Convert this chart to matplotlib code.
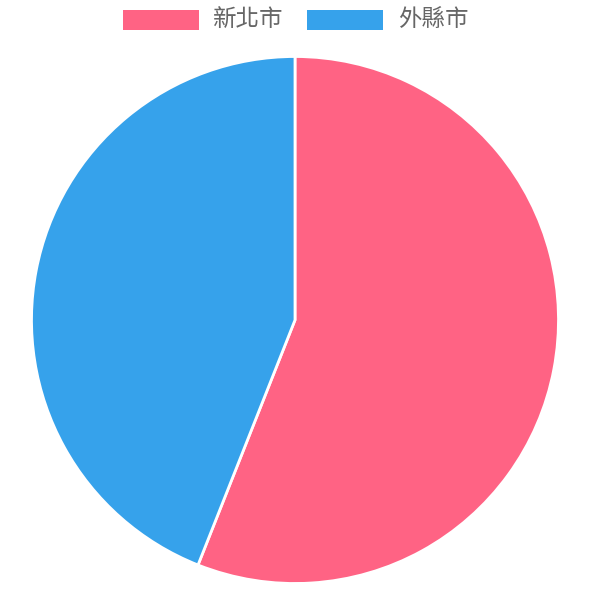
import matplotlib
matplotlib.use("Agg")
import matplotlib.pyplot as plt
from matplotlib.patches import Rectangle

# --- DATA ---
labels = ["新北市", "外縣市"]
values = [56, 44]
colors = ["#FF6384", "#36A2EB"]

# --- LAYOUT (pixels) ---
W = H = 591
dpi = 100
cx, cy, r = 295, 591 - 320, 263.5

plt.rcParams['font.family'] = ['Noto Sans CJK TC', 'DejaVu Sans']

fig = plt.figure(figsize=(W / dpi, H / dpi), dpi=dpi)
ax = fig.add_axes([0, 0, 1, 1])
ax.axis('off')

ax.pie(values, colors=colors, center=(cx, cy), radius=r,
       startangle=90, counterclock=False,
       wedgeprops=dict(edgecolor='white', linewidth=2))
ax.set_xlim(0, W)
ax.set_ylim(0, H)
ax.set_aspect('auto')

# legend drawn by hand at the top
box_x = [123, 307]
text_x = [213, 398]
for lab, col, bx, tx in zip(labels, colors, box_x, text_x):
    ax.add_patch(Rectangle((bx, H - 30), 76, 20, facecolor=col, edgecolor='none'))
    ax.text(tx, H - 19, lab, fontsize=23.5 * 72 / dpi, color='#666666',
            ha='left', va='center', fontweight='light')

fig.savefig("out.png", dpi=dpi)
